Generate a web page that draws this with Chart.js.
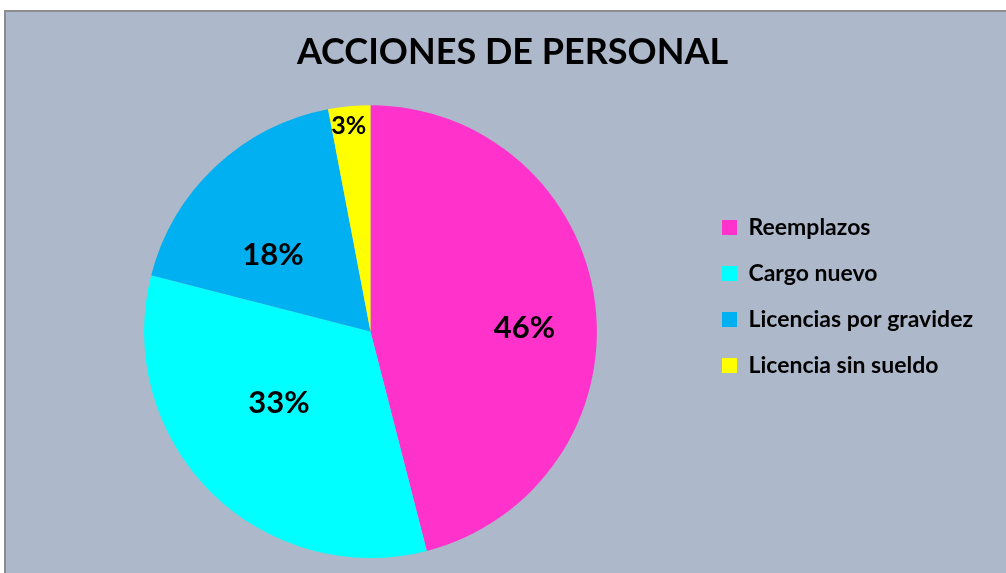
<!DOCTYPE html>
<html>
<head>
<meta charset="utf-8">
<script src="https://cdn.jsdelivr.net/npm/chart.js@4.4.1/dist/chart.umd.min.js"></script>
<style>
  html, body { margin: 0; padding: 0; background: #fff; }
  #marco {
    position: absolute; left: 4px; top: 10px; width: 1010px; height: 570px;
    background: #adb8ca; border-left: 2px solid #8c8c8c; border-top: 2px solid #8c8c8c;
  }
  #wrap { position: absolute; left: 6px; top: 12px; width: 1000px; height: 561px; }
</style>
</head>
<body>
<div id="marco"></div>
<div id="wrap"><canvas id="grafico"></canvas></div>
<script>
const categorias = ['Reemplazos', 'Cargo nuevo', 'Licencias por gravidez', 'Licencia sin sueldo'];
const porcentajes = [46, 33, 18, 3];
const colores = ['#ff33cc', '#00ffff', '#00b0f0', '#ffff00'];

// donde cae cada etiqueta: fraccion del radio y giro respecto al angulo medio
const posEtiquetas = [
    { r: 0.68, giro: 5.4 },
    { r: 0.51, giro: 7.5 },
    { r: 0.55, giro: -8.3 },
    { r: 0.92, giro: -0.6 }
];

const etiquetasPlugin = {
    id: 'etiquetas',
    afterDatasetsDraw(chart) {
        const ctx = chart.ctx;
        const arcos = chart.getDatasetMeta(0).data;
        ctx.save();
        ctx.fillStyle = '#000';
        ctx.textAlign = 'center';
        ctx.textBaseline = 'middle';
        arcos.forEach((arco, i) => {
            const p = arco.getProps(['x', 'y', 'startAngle', 'endAngle', 'outerRadius'], true);
            const pos = posEtiquetas[i];
            const ang = (p.startAngle + p.endAngle) / 2 + pos.giro * Math.PI / 180;
            const x = p.x + Math.cos(ang) * p.outerRadius * pos.r;
            const y = p.y + Math.sin(ang) * p.outerRadius * pos.r;
            ctx.font = (i === 3 ? 'bold 25px' : 'bold 31px') + ' Lato';
            ctx.fillText(porcentajes[i] + '%', x, y + 1);
        });
        ctx.restore();
    }
};

new Chart(document.getElementById('grafico'), {
    type: 'pie',
    data: {
        labels: categorias,
        datasets: [{
            data: porcentajes,
            backgroundColor: colores,
            borderColor: colores,
            borderWidth: 0,
            hoverOffset: 0
        }]
    },
    options: {
        responsive: true,
        maintainAspectRatio: false,
        animation: false,
        layout: { padding: { left: 36, right: 23, top: 0, bottom: 15 } },
        plugins: {
            tooltip: { enabled: false },
            title: {
                display: true,
                text: 'ACCIONES DE PERSONAL',
                color: '#000',
                font: { family: 'Lato', size: 36, weight: 'bold' },
                padding: { top: 19, bottom: 31 }
            },
            legend: {
                display: true,
                position: 'right',
                align: 'start',
                title: {
                    display: true,
                    text: ' ',
                    font: { size: 10, lineHeight: 1 },
                    padding: { top: 171, bottom: 0 }
                },
                labels: {
                    color: '#000',
                    font: { family: 'Lato', size: 23, weight: 'bold' },
                    boxWidth: 15,
                    boxHeight: 15,
                    padding: 23
                }
            }
        }
    },
    plugins: [etiquetasPlugin]
});
</script>
</body>
</html>
